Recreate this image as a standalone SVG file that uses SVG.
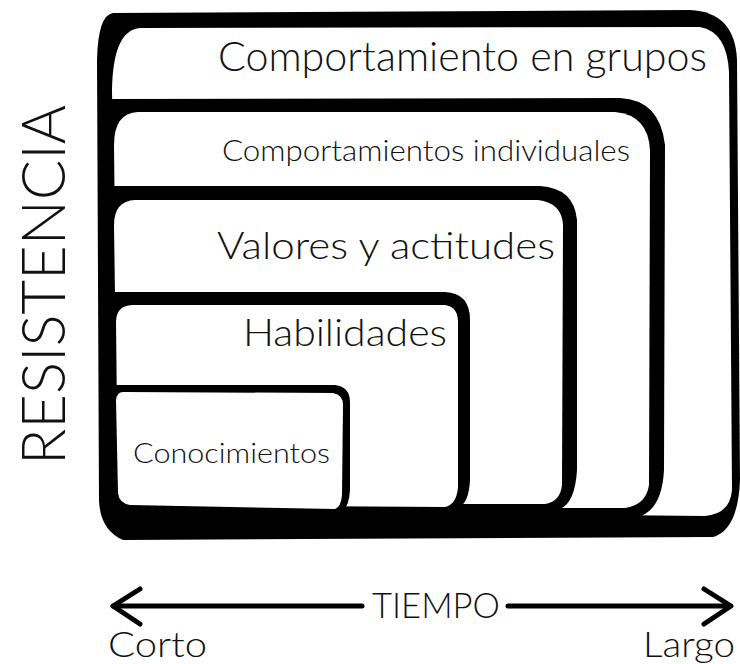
<svg xmlns="http://www.w3.org/2000/svg" width="740" height="664" viewBox="0 0 740 664">
<style>
.blk{fill:#000;stroke:none}
.wht{fill:#fff;stroke:none}
.lbl{font-family:Lato,"Open Sans","Liberation Sans",sans-serif;font-weight:300;fill:#111}
.ax{fill:none;stroke:#000;stroke-width:5;stroke-linecap:round;stroke-linejoin:round}
</style>
<rect width="740" height="664" fill="#fff"/>
<g id="grupos">
<path class="blk" d="M113,13 L690,10 Q735,12 737,60 L740,480 Q738,530 713,537 L123,540 Q100,530 99,500 L97,60 Q98,15 113,13 Z"/>
<path class="wht" d="M140,28 L700,27 Q727,32 729,72 L732,490 Q730,514 705,516 L118,510 L112,90 Q113,30 140,28 Z"/>
<text class="lbl" x="218" y="71" font-size="42" textLength="489" lengthAdjust="spacingAndGlyphs">Comportamiento en grupos</text>
</g>
<g id="individuales">
<path class="blk" d="M106,99 L620,98 Q660,100 665,145 L664,470 Q662,510 638,517 L638,522 L106,522 Z"/>
<path class="wht" d="M138,112 L615,112 Q648,115 650,150 L649,485 Q646,505 625,508 L118,508 L114,145 Q114,113 138,112 Z"/>
<text class="lbl" x="222" y="161" font-size="29" textLength="408" lengthAdjust="spacingAndGlyphs">Comportamientos individuales</text>
</g>
<g id="valores">
<path class="blk" d="M106,186 L540,186 Q574,188 577,220 L577,470 Q575,503 560,509 L560,522 L106,522 Z"/>
<path class="wht" d="M135,200 L538,200 Q562,203 563,225 L562,485 Q560,502 545,504 L118,504 L114,225 Q114,201 135,200 Z"/>
<text class="lbl" x="217" y="259" font-size="37" textLength="338" lengthAdjust="spacingAndGlyphs">Valores y actitudes</text>
</g>
<g id="habilidades">
<path class="blk" d="M106,292 L445,292 Q470,293 470,320 L470,480 Q469,503 458,508 L458,522 L106,522 Z"/>
<path class="wht" d="M132,305 L445,305 Q458,307 458,322 L458,488 Q456,505 445,507 L118,505 L116,322 Q116,306 132,305 Z"/>
<text class="lbl" x="243" y="346" font-size="37" textLength="204" lengthAdjust="spacingAndGlyphs">Habilidades</text>
</g>
<g id="conocimientos">
<path class="blk" d="M108,385 L335,385 Q350,387 350,402 L350,490 Q349,507 342,511 L342,522 L108,522 Z"/>
<path class="wht" d="M123,392 L333,393 Q343,395 343,405 L342,495 Q341,507 335,509 L130,505 Q119,503 118,493 L116,400 Q117,392 123,392 Z"/>
<text class="lbl" x="133" y="463" font-size="28" textLength="197" lengthAdjust="spacingAndGlyphs">Conocimientos</text>
</g>
<g id="resistencia">
<text class="lbl" transform="translate(65,465) rotate(-90)" x="0" y="0" font-size="62" textLength="360" lengthAdjust="spacingAndGlyphs">RESISTENCIA</text>
</g>
<g id="connectors">
<path class="ax" d="M113,606 L362,606 M508,606 L730,606"/>
<path class="ax" d="M140,589 L113,606 L140,624"/>
<path class="ax" d="M704,589 L731,606 L704,624"/>
</g>
<g id="tiempo">
<text class="lbl" x="372" y="618" font-size="35" textLength="128" lengthAdjust="spacingAndGlyphs">TIEMPO</text>
<text class="lbl" x="108" y="657" font-size="35" textLength="99" lengthAdjust="spacingAndGlyphs">Corto</text>
<text class="lbl" x="643" y="657" font-size="35" textLength="92" lengthAdjust="spacingAndGlyphs">Largo</text>
</g>
</svg>
